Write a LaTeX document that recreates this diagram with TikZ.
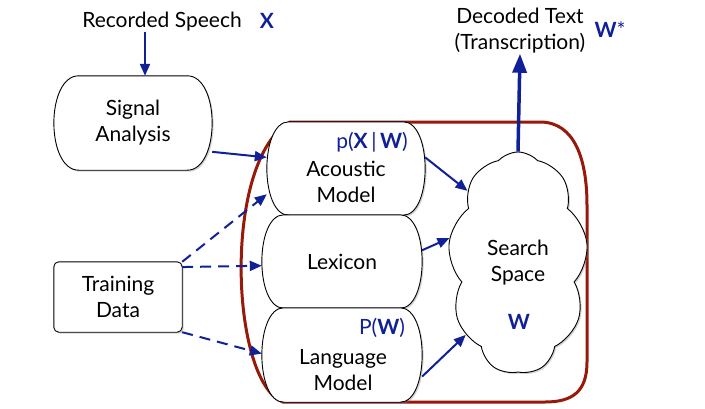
\documentclass[tikz,border=0pt]{standalone}
\usepackage{fontspec}
\setmainfont{Lato}
\usepackage{tikz}
\usetikzlibrary{positioning, arrows.meta, calc, shapes.symbols, shadows, backgrounds}

\definecolor{asrblue}{RGB}{16,32,150}
\definecolor{asrred}{RGB}{150,25,10}

\tikzset{
  txt/.style={align=center, inner sep=0pt, font=\fontsize{21}{26}\selectfont},
  symb/.style={txt, text=asrblue},
  capsule/.style={minimum width=#1, minimum height=93, inner sep=0pt},
  shapeline/.style={draw=black, line width=0.9pt, fill=white,
    drop shadow={shadow xshift=1.5pt, shadow yshift=-1.5pt, opacity=0.35}},
  flow/.style={draw=asrblue, line width=2pt, -{Triangle[length=12pt,width=10pt]}},
  train/.style={flow, dash pattern=on 11pt off 7pt},
  result/.style={draw=asrblue, line width=3.5pt, -{Triangle[length=19pt,width=14pt]}},
}

% outline with bulging left and right sides
\newcommand{\capsuleline}[2]{%
  \draw[shapeline] ($(#1.north west)+(#2,0)$) -- ($(#1.north east)+(-#2,0)$)
    .. controls +(1.33*#2,0) and +(1.33*#2,0) .. ($(#1.south east)+(-#2,0)$)
    -- ($(#1.south west)+(#2,0)$)
    .. controls +(-1.33*#2,0) and +(-1.33*#2,0) .. ($(#1.north west)+(#2,0)$) -- cycle;}

\begin{document}
\begin{tikzpicture}[x=1pt, y=-1pt]
\useasboundingbox (0,0) rectangle (705,408);

% --- inputs and outputs ---
\node[txt] (rs) at (162,22) {Recorded Speech};
\node[symb] (xsym) at (267,21) {\textbf{X}};
\node[txt] (dt) at (520,31) {Decoded Text\\(Transcription)};
\node[symb] (wstar) at (610,30) {\textbf{W}*};

% --- boxes ---
\node[txt, capsule=158, minimum height=94] (sa) at (133,123) {Signal\\Analysis};
\node[capsule=158] (am) at (346,168.5) {};
\node[txt, capsule=160] (lx) at (342,261.5) {Lexicon};
\node[capsule=160, minimum height=94] (lm) at (342,355) {};
\node[txt, minimum width=128, minimum height=70] (td) at (118,297) {Training\\Data};

\begin{pgfonlayer}{background}
% decoder frame
\draw[asrred, line width=3pt] (290,122) -- (540,122)
  .. controls (575,122) and (587,160) .. (587,205) -- (587,362)
  .. controls (587,392) and (572,402) .. (545,402) -- (283,402)
  .. controls (230,382) and (222,160) .. (290,122) -- cycle;
\capsuleline{sa}{25}
\capsuleline{am}{22}
\capsuleline{lx}{22}
\capsuleline{lm}{22}
\draw[shapeline, rounded corners=5pt] (td.north west) rectangle (td.south east);
\end{pgfonlayer}

\node[txt] (amtext) at (346,182) {Acoustic\\Model};
\node[symb] (amprob) at (372,142) {p(\textbf{X}\,|\,\textbf{W})};
\node[txt] (lmtext) at (343,370) {Language\\Model};
\node[symb] (lmprob) at (382,328) {P(\textbf{W})};

% --- search space ---
\node[txt, cloud, cloud puffs=9, cloud puff arc=95, cloud ignores aspect,
  minimum width=140, minimum height=222, shapeline] (ss) at (518,263) {Search\\Space};
\node[symb] (wsym) at (519,322) {\textbf{W}};

% --- connectors ---
\draw[flow] ($(rs.south)+(-17,0)$) -- ($(sa.north)+(12,0)$);
\draw[flow] (sa.-20) -- (am.172);
\draw[train] (td.north east) -- (am.198);
\draw[train] (td.25) -- (lx.183);
\draw[train] (td.south east) -- (lm.179);
\draw[flow] (am.8) -- (ss.125);
\draw[flow] (lx.8) -- (ss.160);
\draw[flow] (lm.-15) -- (ss.234);
\draw[result] (ss.north) -- (dt.south);

\end{tikzpicture}
\end{document}
